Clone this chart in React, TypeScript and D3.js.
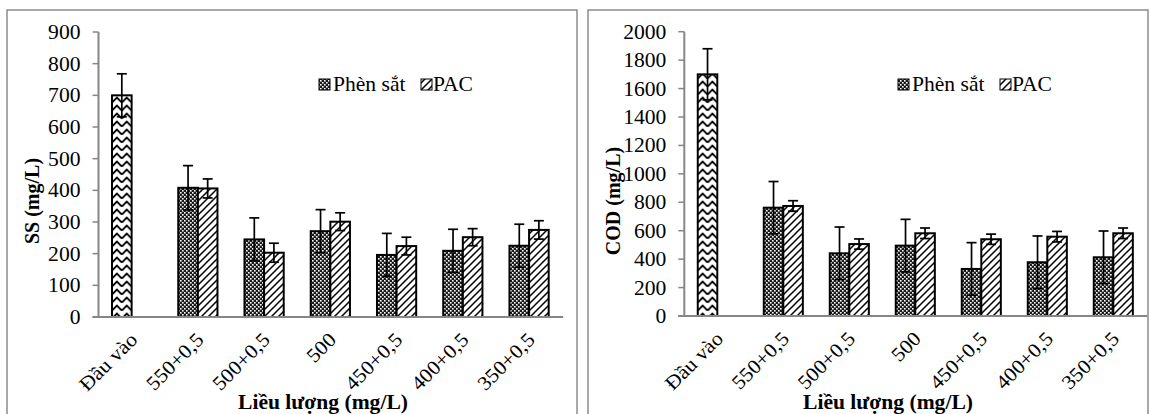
import React from "react";
import * as d3 from "d3";

// categories + values
const categories = ["Đầu vào", "550+0,5", "500+0,5", "500", "450+0,5", "400+0,5", "350+0,5"];
const seriesNames = ["Phèn sắt", "PAC"];

// first value of the "Phèn sắt" slot is the raw input (drawn with chevron)
const ssPhen = [700, 408, 245, 271, 196, 209, 225];
const ssPhenErr = [68, 70, 68, 68, 68, 68, 68];
const ssPac = [null, 406, 203, 301, 224, 252, 275];
const ssPacErr = [null, 30, 30, 28, 28, 27, 29];
const ssTicks = [0, 100, 200, 300, 400, 500, 600, 700, 800, 900];

const codPhen = [1700, 762, 441, 495, 331, 378, 413];
const codPhenErr = [180, 184, 185, 185, 185, 185, 185];
const codPac = [null, 774, 506, 582, 540, 558, 582];
const codPacErr = [null, 37, 36, 37, 36, 37, 37];
const codTicks = [0, 200, 400, 600, 800, 1000, 1200, 1400, 1600, 1800, 2000];

const FONT = "'Times New Roman', 'Liberation Serif', serif";
const AXIS = "#868686";
const SX = 1.08; // the source picture is a little stretched sideways

// text with the slight horizontal stretch
function T({ x, y, rot = 0, anchor = "start", dy = "0", bold = false, children }) {
  return (
    <text transform={`translate(${x},${y}) rotate(${rot}) scale(${SX},1)`} textAnchor={anchor} dy={dy}
      fontSize={20} fontWeight={bold ? "bold" : "normal"} fontFamily={FONT} fill="#000">{children}</text>
  );
}

function Panel({ id, frame, x0, x1, yTop, yBot, max, ticks, phen, phenErr, pac, pacErr, yTitle, xTitleX, legendX }) {
  const x = d3.scaleBand().domain(categories).range([x0, x1]).padding(0);
  const y = d3.scaleLinear().domain([0, max]).range([yBot, yTop]);
  const bw = x.bandwidth() * 0.296;
  const cx = (c) => x(c) + x.bandwidth() / 2;

  const err = (xc, v, e) => {
    if (v == null || e == null) return null;
    return (
      <g stroke="#000" strokeWidth={1.7}>
        <line x1={xc} x2={xc} y1={y(v + e)} y2={y(v - e)} />
        <line x1={xc - 5} x2={xc + 5} y1={y(v + e)} y2={y(v + e)} />
        <line x1={xc - 5} x2={xc + 5} y1={y(v - e)} y2={y(v - e)} />
      </g>
    );
  };

  const inputLeft = cx(categories[0]) - bw;

  return (
    <g>
      <defs>
        <pattern id={`chev-${id}`} patternUnits="userSpaceOnUse" x={inputLeft} y={0} width={bw / 2} height={8}>
          <rect width={bw / 2} height={8} fill="#fff" />
          <path d={`M0,6.5 L${bw / 4},1.5 L${bw / 2},6.5`} fill="none" stroke="#000" strokeWidth={1.8} />
        </pattern>
      </defs>
      <rect x={frame[0]} y={frame[1]} width={frame[2]} height={frame[3]} fill="#fff" stroke="#8c8c8c" strokeWidth={1.5} />

      {/* y axis */}
      <line x1={x0} x2={x0} y1={yTop} y2={yBot} stroke={AXIS} strokeWidth={2} />
      {ticks.map((t) => (
        <g key={t}>
          <line x1={x0 - 6} x2={x0} y1={y(t)} y2={y(t)} stroke={AXIS} strokeWidth={1.5} />
          <T x={x0 - 18} y={y(t)} dy="0.35em" anchor="end">{t}</T>
        </g>
      ))}

      {/* bars */}
      {categories.map((c, i) => (
        <g key={c}>
          {phen[i] != null && (
            <rect x={cx(c) - bw} y={y(phen[i])} width={bw} height={y(0) - y(phen[i])}
              fill={i === 0 ? `url(#chev-${id})` : "url(#checker)"} stroke="#000" strokeWidth={2} />
          )}
          {pac[i] != null && (
            <rect x={cx(c)} y={y(pac[i])} width={bw} height={y(0) - y(pac[i])}
              fill="url(#hatch)" stroke="#000" strokeWidth={2} />
          )}
        </g>
      ))}
      {categories.map((c, i) => (
        <g key={"e" + c}>
          {err(cx(c) - bw / 2, phen[i], phenErr[i])}
          {err(cx(c) + bw / 2, pac[i], pacErr[i])}
        </g>
      ))}

      {/* x axis */}
      <line x1={x0 - 6} x2={x1 + 1} y1={yBot} y2={yBot} stroke={AXIS} strokeWidth={2} />
      {categories.map((c) => (
        <T key={"l" + c} x={cx(c) + 2} y={yBot + 19} rot={-45} anchor="end" dy="0.35em">{c}</T>
      ))}

      <T x={xTitleX} y={409} anchor="middle" bold>Liều lượng (mg/L)</T>
      <text transform={`translate(${frame[0] + 25},201) rotate(-90)`} textAnchor="middle" dy="0.35em"
        fontSize={20} fontWeight="bold" fontFamily={FONT}>{yTitle}</text>

      {/* legend */}
      <rect x={legendX} y={79} width={11} height={11} fill="url(#checker)" stroke="#000" strokeWidth={1} />
      <T x={legendX + 14} y={91}>{seriesNames[0]}</T>
      <rect x={legendX + 102} y={79} width={11} height={11} fill="url(#hatch)" stroke="#000" strokeWidth={1} />
      <T x={legendX + 114} y={91}>{seriesNames[1]}</T>
    </g>
  );
}

export default function App() {
  return (
    <svg width={1149} height={414} style={{ position: "absolute", left: 0, top: 0, background: "#fff" }}>
      <defs>
        <pattern id="checker" patternUnits="userSpaceOnUse" width={4} height={4}>
          <rect width={4} height={4} fill="#1a1a1a" />
          <rect x={0} y={0} width={1.6} height={1.6} fill="#fff" />
          <rect x={2} y={2} width={1.6} height={1.6} fill="#fff" />
        </pattern>
        <pattern id="hatch" patternUnits="userSpaceOnUse" width={7} height={7}>
          <rect width={7} height={7} fill="#fff" />
          <path d="M0,7 L7,0 M-2,2 L2,-2 M5,9 L9,5" stroke="#000" strokeWidth={1.5} />
        </pattern>
      </defs>
      <Panel id="ss" frame={[7, 10, 570, 420]} x0={98.5} x1={562.2} yTop={32} yBot={317} max={900} ticks={ssTicks}
        phen={ssPhen} phenErr={ssPhenErr} pac={ssPac} pacErr={ssPacErr} yTitle="SS (mg/L)" xTitleX={323} legendX={319} />
      <Panel id="cod" frame={[588, 10, 560, 420]} x0={684.3} x1={1146.3} yTop={31.7} yBot={316} max={2000} ticks={codTicks}
        phen={codPhen} phenErr={codPhenErr} pac={codPac} pacErr={codPacErr} yTitle="COD (mg/L)" xTitleX={888} legendX={898} />
    </svg>
  );
}
